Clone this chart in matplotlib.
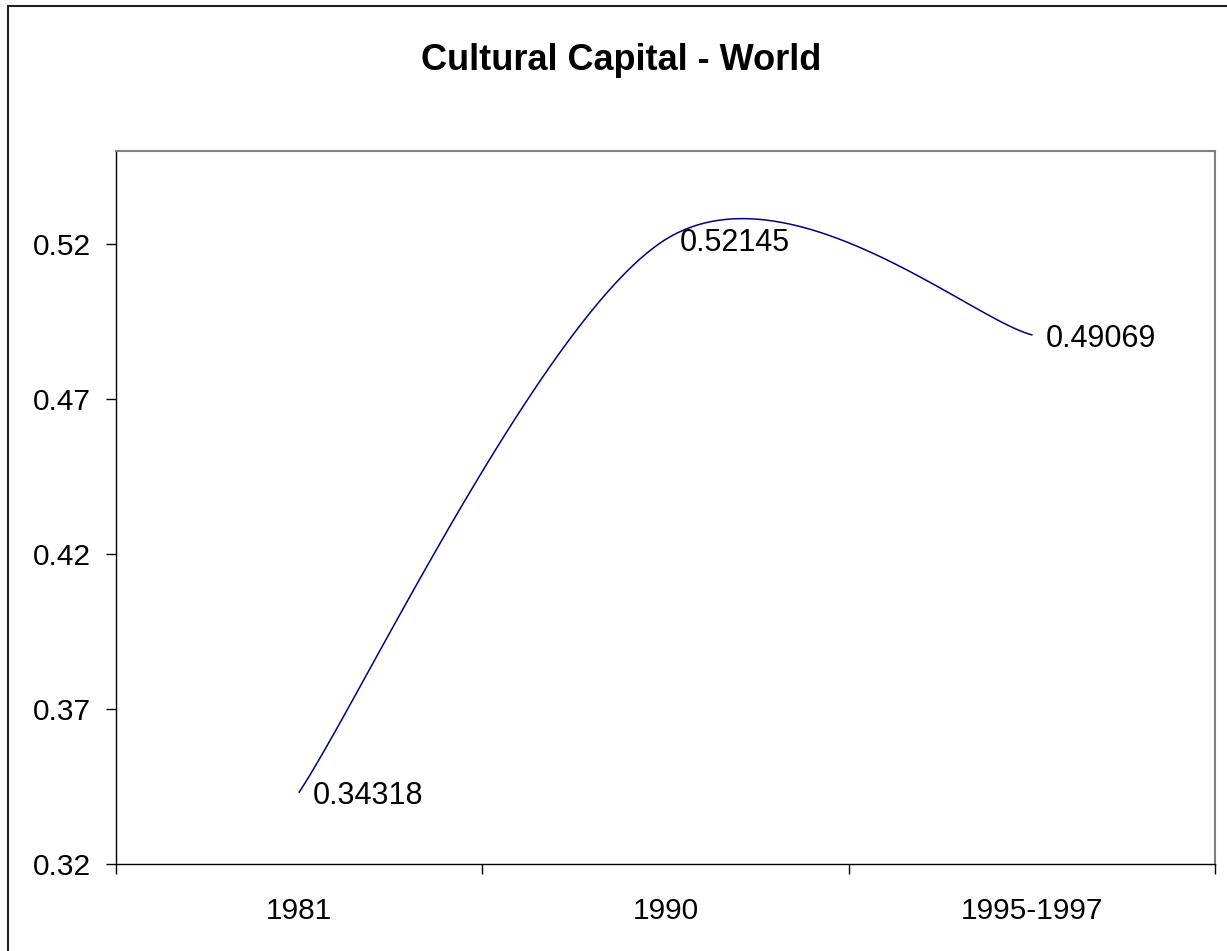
import numpy as np
import matplotlib
matplotlib.use('Agg')
from matplotlib import pyplot as plt
from matplotlib.patches import Rectangle

plt.rcParams['font.family'] = ['Liberation Sans', 'DejaVu Sans']

categories = ['1981', '1990', '1995-1997']
values = [0.34318, 0.52145, 0.49069]
y_ticks = [0.32, 0.37, 0.42, 0.47, 0.52]


def smooth_line(xs, ys, steps=60):
    # excel-like smoothing: cubic bezier through points, tangents from neighbours
    pts = np.column_stack([xs, ys]).astype(float)
    n = len(pts)
    out = [pts[0]]
    for i in range(n - 1):
        p0 = pts[max(i - 1, 0)]
        p1 = pts[i]
        p2 = pts[i + 1]
        p3 = pts[min(i + 2, n - 1)]
        c1 = p1 + (p2 - p0) / 6
        c2 = p2 - (p3 - p1) / 6
        t = np.linspace(0, 1, steps)[1:, None]
        seg = ((1 - t) ** 3) * p1 + 3 * ((1 - t) ** 2) * t * c1 + 3 * (1 - t) * t ** 2 * c2 + t ** 3 * p2
        out.extend(seg)
    out = np.array(out)
    return out[:, 0], out[:, 1]


fig = plt.figure(figsize=(12.27, 9.51), dpi=100)
ax = fig.add_axes([116 / 1227, 87 / 951, 1099 / 1227, 713 / 951])

xs = np.arange(len(categories))
sx, sy = smooth_line(xs, values)
ax.plot(sx, sy, color='#000080', lw=1.1)

for x, v in zip(xs, values):
    ax.annotate(f'{v:.5f}', (x, v), xytext=(10, -8.5), textcoords='offset points',
                ha='left', va='baseline', fontsize=22)

ax.set_xlim(-0.5, len(categories) - 0.5)
ax.set_ylim(0.32, 0.55)
ax.set_yticks(y_ticks)
ax.set_yticklabels([f'{t:.2f}' for t in y_ticks], fontsize=21.5)
ax.tick_params(axis='y', direction='out', length=7.2, width=1, pad=11)

ax.set_xticks(xs)
ax.set_xticklabels(categories, fontsize=21.5)
ax.set_xticks(np.arange(len(categories) + 1) - 0.5, minor=True)
ax.tick_params(axis='x', which='major', length=0, pad=24)
ax.tick_params(axis='x', which='minor', direction='out', length=7.2, width=1)

for side in ['top', 'right']:
    ax.spines[side].set_color('#808080')
    ax.spines[side].set_linewidth(1.5)
for side in ['left', 'bottom']:
    ax.spines[side].set_color('black')
    ax.spines[side].set_linewidth(1)

fig.text(621 / 1227, 1 - 70 / 951, 'Cultural Capital - World', ha='center', va='baseline',
         fontsize=26, fontweight='bold')

# outer chart frame
fig.add_artist(Rectangle((7.5 / 1227, -0.02), 1.1, 1.02 - 6 / 951, transform=fig.transFigure,
                         fill=False, edgecolor='#222222', lw=1.5))

fig.savefig('out.png', dpi=100, facecolor='white')
